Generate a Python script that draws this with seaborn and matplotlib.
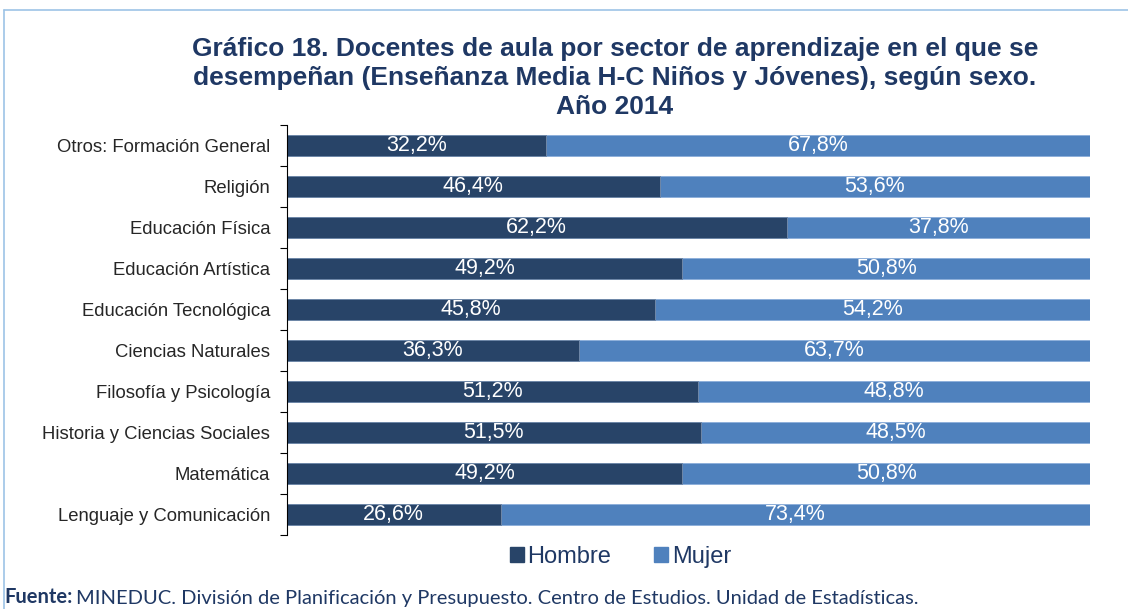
import matplotlib
matplotlib.use("Agg")
import matplotlib.pyplot as plt
import seaborn as sns
import pandas as pd
from matplotlib.lines import Line2D
from matplotlib.patches import Patch

# Data (top to bottom)
sectores = [
    "Otros: Formación General",
    "Religión",
    "Educación Física",
    "Educación Artística",
    "Educación Tecnológica",
    "Ciencias Naturales",
    "Filosofía y Psicología",
    "Historia y Ciencias Sociales",
    "Matemática",
    "Lenguaje y Comunicación",
]
hombre = [32.2, 46.4, 62.2, 49.2, 45.8, 36.3, 51.2, 51.5, 49.2, 26.6]
mujer = [67.8, 53.6, 37.8, 50.8, 54.2, 63.7, 48.8, 48.5, 50.8, 73.4]

c_hombre = "#284468"
c_mujer = "#4F81BD"
navy = "#1F3864"

df = pd.DataFrame({"sector": sectores, "hombre": hombre, "mujer": mujer})
df["total"] = df["hombre"] + df["mujer"]

sns.set_style("white")
plt.rcParams["font.family"] = ["Liberation Sans", "DejaVu Sans"]

fig = plt.figure(figsize=(11.28, 6.09), dpi=100)
ax = fig.add_axes([0.2544, 0.1215, 0.712, 0.673])

sns.barplot(data=df, y="sector", x="total", color=c_mujer, width=0.5, saturation=1,
            edgecolor="#8FB0DA", linewidth=0.7, ax=ax, orient="h")
sns.barplot(data=df, y="sector", x="hombre", color=c_hombre, width=0.5, saturation=1,
            edgecolor="#6F88A8", linewidth=0.7, ax=ax, orient="h")

for i, (h, m) in enumerate(zip(hombre, mujer)):
    ax.text(h / 2, i, f"{h:.1f}%".replace(".", ","), ha="center", va="center",
            color="white", fontsize=15.5)
    ax.text(h + m / 2, i, f"{m:.1f}%".replace(".", ","), ha="center", va="center",
            color="white", fontsize=15.5)

ax.set_xlim(0, 100)
ax.set_ylim(len(sectores) - 0.5, -0.5)
ax.set_xlabel("")
ax.set_ylabel("")
ax.set_xticks([])
for s in ["top", "right", "bottom"]:
    ax.spines[s].set_visible(False)
ax.spines["left"].set_color("#000000")
ax.spines["left"].set_linewidth(0.8)
ax.tick_params(axis="y", which="major", left=False, length=0, pad=12, labelsize=13.3, labelcolor="#262626")
ax.set_yticks([i - 0.5 for i in range(len(sectores) + 1)], minor=True)
ax.tick_params(axis="y", which="minor", left=True, length=5, width=0.8, color="#000000", direction="out")

fig.text(0.545, 0.94, "Gráfico 18. Docentes de aula por sector de aprendizaje en el que se\n"
         "desempeñan (Enseñanza Media H-C Niños y Jóvenes), según sexo.\nAño 2014",
         ha="center", va="top", fontsize=19, fontweight="bold", color=navy, linespacing=1.28)

handles = [Patch(color=c_hombre, label="Hombre"), Patch(color=c_mujer, label="Mujer")]
fig.legend(handles=handles, loc="center", bbox_to_anchor=(0.55, 0.085), ncol=2, frameon=False,
           fontsize=17, handlelength=0.6, handleheight=0.6, handletextpad=0.15, columnspacing=1.8,
           labelcolor=navy)

t1 = fig.text(0.004, 0.003, "Fuente:", fontsize=14.5, fontweight="bold", color=navy, family="Lato", va="bottom")
fig.canvas.draw()
bb = t1.get_window_extent(fig.canvas.get_renderer())
fig.text(bb.x1 / fig.bbox.width + 0.003, 0.003,
         "MINEDUC. División de Planificación y Presupuesto. Centro de Estudios. Unidad de Estadísticas.",
         fontsize=14.5, color=navy, family="Lato", va="bottom")

# light frame around the chart
fig.add_artist(Line2D([0.0035, 1.0], [0.984, 0.984], color="#9DC3E6", lw=1.2, transform=fig.transFigure))
fig.add_artist(Line2D([0.0035, 0.0035], [0.984, 0.0], color="#9DC3E6", lw=1.2, transform=fig.transFigure))

fig.savefig("out.png", dpi=100)
